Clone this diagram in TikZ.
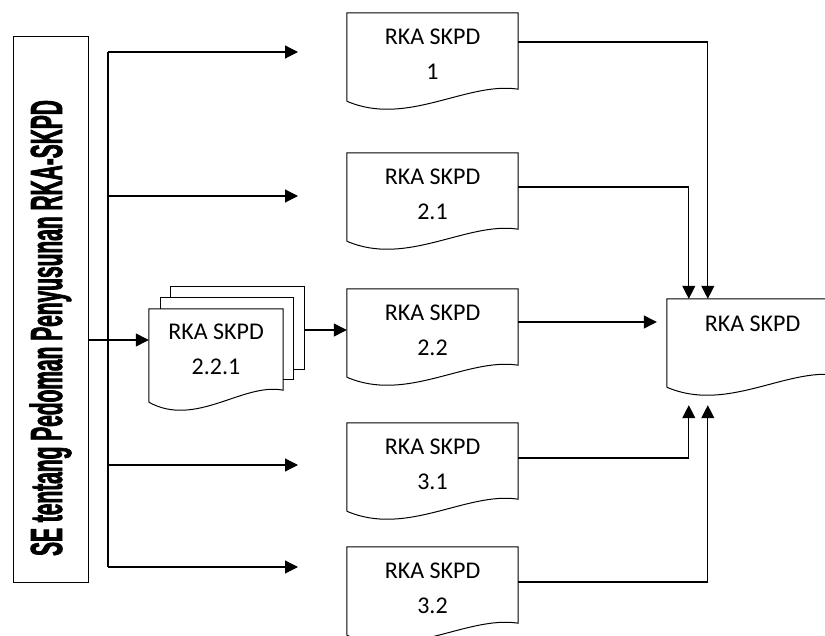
\documentclass[tikz,border=0pt]{standalone}
\usepackage{fontspec}
\setmainfont{Carlito}
\newfontfamily\sefont{Liberation Sans Bold}[FakeStretch=0.465,FakeBold=1.5]
\usetikzlibrary{arrows.meta,calc}

\tikzset{
  docbox/.style={minimum width=171pt, minimum height=96pt, inner sep=0pt, align=center,
    text depth=13pt, font=\fontsize{24}{35}\selectfont},
  link/.style={line width=1.2pt},
}
% document outline with wavy bottom
\newcommand{\docedge}[1]{%
  \draw[line width=1pt] ([yshift=8pt]#1.south west) -- (#1.north west) -- (#1.north east)
    -- ([yshift=20pt]#1.south east)
    .. controls ($(#1.south west)!0.7!(#1.south east)+(0,-28)$)
    and ($(#1.south west)!0.35!(#1.south east)+(0,18)$)
    .. ([yshift=8pt]#1.south west);}

\begin{document}
\begin{tikzpicture}[x=1pt, y=-1pt, >={Triangle[length=13pt,width=13pt]}]
\useasboundingbox (0,0) rectangle (825,636);

\node[draw, line width=1pt, rotate=90, minimum width=545pt, minimum height=75pt, inner sep=0pt,
  font=\sefont\fontsize{45}{45}\selectfont] (se) at (50.5,309.5) {SE tentang Pedoman Penyusunan RKA-SKPD\hspace*{37pt}};

\node[docbox] (d1) at (432.5,61) {RKA SKPD\\1};
\node[docbox] (d21) at (432.5,201) {RKA SKPD\\2.1};
\node[docbox] (d22) at (432.5,337) {RKA SKPD\\2.2};
\node[docbox] (d31) at (432.5,471) {RKA SKPD\\3.1};
\node[docbox] (d32) at (432.5,595) {RKA SKPD\\3.2};
\node[docbox, text depth=46pt] (tgt) at (752.5,347) {RKA SKPD};
\node[docbox, minimum width=134pt, minimum height=101pt, text depth=20pt] (d221) at (216,359.5) {RKA SKPD\\2.2.1};

\foreach \n in {d1,d21,d22,d31,d32,tgt,d221}
  \docedge{\n};
% sheets behind 2.2.1
\draw[line width=1pt] ([xshift=12pt]d221.north west) -- ([shift={(12pt,11pt)}]d221.north west)
  -- ([shift={(10pt,11pt)}]d221.north east) -- ([shift={(10pt,-71pt)}]d221.north east) -- ([yshift=-71pt]d221.north east);
\draw[line width=1pt] ([shift={(22pt,11pt)}]d221.north west) -- ([shift={(22pt,22pt)}]d221.north west)
  -- ([shift={(21pt,22pt)}]d221.north east) -- ([shift={(21pt,-61pt)}]d221.north east) -- ([shift={(10pt,-61pt)}]d221.north east);

% left bus
\coordinate (bus-t) at (108,52);
\coordinate (bus-b) at (108,567);
\draw[link] (bus-t) -- (bus-b);
\foreach \y in {52,196,465,567}
  \draw[link,->] (108,\y) -- (298,\y);
\coordinate (in221) at ([yshift=19.5pt]d221.west);
\draw[link,->] (se.south |- in221) -- (in221);
\coordinate (out221) at ([shift={(21pt,29.5pt)}]d221.east);
\draw[link,->] (out221) -- (out221 -| d22.west);

% into RKA SKPD
\draw[link,->] ([yshift=19pt]d1.east) -| ([xshift=41pt]tgt.north west);
\draw[link,->] ([yshift=14pt]d21.east) -| ([xshift=22pt]tgt.north west);
\draw[link,->,shorten >=10pt] ([yshift=15pt]d22.east) -- ([yshift=15pt]d22.east -| tgt.west);
\draw[link,->] ([yshift=13pt]d31.east) -| ([shift={(22pt,-10pt)}]tgt.south west);
\draw[link,->] ([yshift=13pt]d32.east) -| ([shift={(41pt,-10pt)}]tgt.south west);
\end{tikzpicture}
\end{document}
